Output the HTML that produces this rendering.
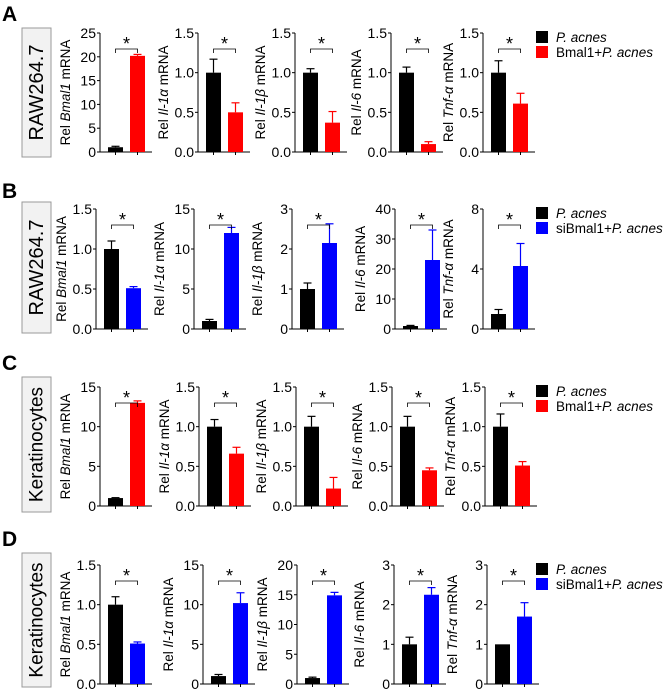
<!DOCTYPE html>
<html><head><meta charset="utf-8"><style>
html,body{margin:0;padding:0;background:#fff;}
svg{display:block;font-family:"Liberation Sans",Arial,sans-serif;}
</style></head><body>
<svg id="fig" width="664" height="691" viewBox="0 0 664 691"></svg>
<script>
const rowLetters = ["A","B","C","D"];
const cellLabels = ["RAW264.7","RAW264.7","Keratinocytes","Keratinocytes"];
const treatLabels = ["Bmal1+","siBmal1+","Bmal1+","siBmal1+"];
const genes = ["Bmal1","Il-1\u03b1","Il-1\u03b2","Il-6","Tnf-\u03b1"];
const ctrlVals = [[1,1,1,1,1],[1,1,1,1,1],[1,1,1,1,1],[1,1,1,1,1]];
const ctrlErr = [[0.2,0.17,0.05,0.07,0.15],[0.1,0.2,0.15,0.2,0.3],[0.05,0.09,0.13,0.13,0.16],[0.1,0.2,0.15,0.18,0]];
const treatVals = [[20.2,0.5,0.37,0.1,0.61],[0.51,12,2.15,23,4.2],[13,0.66,0.22,0.45,0.51],[0.51,10.2,14.9,2.25,1.7]];
const treatErr = [[0.3,0.12,0.14,0.03,0.13],[0.02,0.7,0.48,10,1.5],[0.25,0.08,0.14,0.03,0.05],[0.02,1.3,0.5,0.18,0.35]];
const yTicks = [
 [[0,5,10,15,20,25],[0,0.5,1,1.5],[0,0.5,1,1.5],[0,0.5,1,1.5],[0,0.5,1,1.5]],
 [[0,0.5,1,1.5],[0,5,10,15],[0,1,2,3],[0,10,20,30,40],[0,4,8]],
 [[0,5,10,15],[0,0.5,1,1.5],[0,0.5,1,1.5],[0,0.5,1,1.5],[0,0.5,1,1.5]],
 [[0,0.5,1,1.5],[0,5,10,15],[0,5,10,15,20],[0,1,2,3],[0,1,2,3]]
];
const treatColors = ["#ff0000","#0000ff","#ff0000","#0000ff"];
// layout (not data)
const rowTop = [33,209,387,565], rowBot = [152,329,506,684];
const axisX = [[100,198,295,391,483],[96,194,292,395,483],[100,199,296,392,485],[100,203,297,394,487]];
const boxY = [[28,157],[202,333],[377,512],[553,687]];
const letterY = [21,198,370,546];
const legY = [37,213,391,569];

const NS="http://www.w3.org/2000/svg";
const svg=document.getElementById('fig');
function mk(tag,attrs,parent){const e=document.createElementNS(NS,tag);for(const k in attrs)e.setAttribute(k,attrs[k]);(parent||svg).appendChild(e);return e;}
function fmt(v,ticks){const dec=ticks.some(t=>t%1!==0);return dec?v.toFixed(1):String(v);}

for(let r=0;r<4;r++){
  const g=mk('g',{});
  
  
  const L=mk('text',{x:2,y:letterY[r],'font-size':21,'font-weight':'bold',fill:'#000'},g);
  L.textContent=rowLetters[r];
  
  
  const bx=mk('rect',{x:22,y:boxY[r][0],width:29,height:boxY[r][1]-boxY[r][0],fill:'#f2f2f2',stroke:'#999','stroke-width':1},g);
  
  
  const cy=(boxY[r][0]+boxY[r][1])/2;
  const ct=mk('text',{x:37,y:cy,transform:`rotate(-90 37 ${cy})`,'text-anchor':'middle','dominant-baseline':'central','font-size':r<2?20:19,fill:'#000'},g);
  ct.textContent=cellLabels[r];
  
  

  for(let c=0;c<5;c++){
    const ax=axisX[r][c], top=rowTop[r], bot=rowBot[r];
    const ticks=yTicks[r][c], ymax=ticks[ticks.length-1];
    const y=v=>bot-(v/ymax)*(bot-top);
    const cg=mk('g',{},g);
    
    
    const yl=mk('line',{x1:ax,y1:top,x2:ax,y2:bot,stroke:'#000','stroke-width':1},cg);
    
    
    const xl=mk('line',{x1:ax,y1:bot,x2:ax+52,y2:bot,stroke:'#000','stroke-width':1},cg);
    
    
    ticks.forEach(t=>{
      mk('line',{x1:ax-3,y1:y(t),x2:ax,y2:y(t),stroke:'#000','stroke-width':1},cg);
      const tl=mk('text',{x:ax-4,y:y(t)+5,'text-anchor':'end','font-size':14,fill:'#000'},cg);
      tl.textContent=fmt(t,ticks);
      
      
    });
    const my=(top+bot)/2, lx=ax-35;
    const lab=mk('text',{x:lx,y:my,transform:`rotate(-90 ${lx} ${my})`,'text-anchor':'middle','dominant-baseline':'central','font-size':13.5,fill:'#000'},cg);
    
    
    const t1=mk('tspan',{},lab);t1.textContent='Rel ';
    const t2=mk('tspan',{'font-style':'italic'},lab);t2.textContent=genes[c];
    const t3=mk('tspan',{},lab);t3.textContent=' mRNA';
    const vals=[ctrlVals[r][c],treatVals[r][c]], errs=[ctrlErr[r][c],treatErr[r][c]];
    const cols=['#000',treatColors[r]], bxs=[ax+8,ax+30], cx=[ax+15.5,ax+37.5];
    for(let i=0;i<2;i++){
      mk('line',{x1:cx[i],y1:bot,x2:cx[i],y2:bot+3,stroke:'#000','stroke-width':1},cg);
      const b=mk('rect',{x:bxs[i],y:y(vals[i]),width:15,height:bot-y(vals[i]),fill:cols[i]},cg);
      
      
      if(errs[i]>0){
        const ey=y(vals[i]+errs[i]);
        mk('line',{x1:cx[i],y1:y(vals[i]),x2:cx[i],y2:ey,stroke:cols[i],'stroke-width':1.2},cg);
        mk('line',{x1:cx[i]-4,y1:ey,x2:cx[i]+4,y2:ey,stroke:cols[i],'stroke-width':1.2},cg);
      }
    }
    const by=top+16;
    const br=mk('path',{d:`M${cx[0]} ${by+4}V${by}H${cx[1]}V${by+4}`,fill:'none',stroke:'#000','stroke-width':0.8},cg);
    
    
    const st=mk('text',{x:(cx[0]+cx[1])/2,y:by+1,'text-anchor':'middle','font-size':18,fill:'#000'},cg);
    st.textContent='*';
    
    
  }
  const lg=mk('g',{},g);
  
  
  for(let i=0;i<2;i++){
    const ly=legY[r]+i*15;
    mk('rect',{x:536,y:ly-6,width:12,height:12,fill:i?treatColors[r]:'#000'},lg);
    const t=mk('text',{x:556,y:ly+5,'font-size':13.5,fill:'#000'},lg);
    
    
    if(i){const a=mk('tspan',{},t);a.textContent=treatLabels[r];}
    const b=mk('tspan',{'font-style':'italic'},t);b.textContent='P. acnes';
  }
}
</script>
</body></html>
